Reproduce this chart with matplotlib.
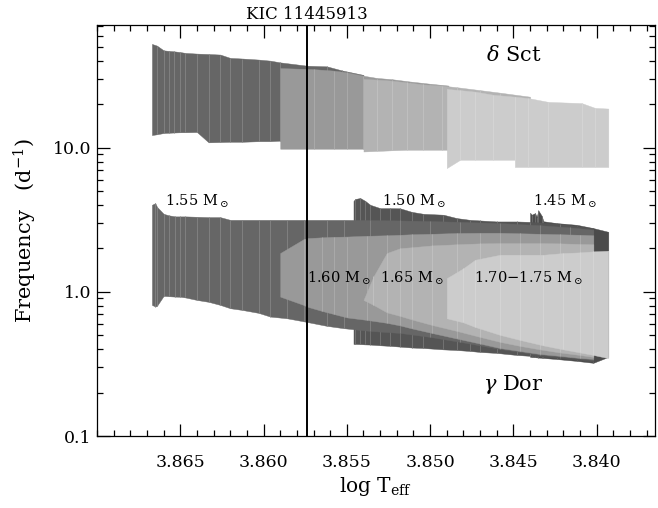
import matplotlib
matplotlib.use('Agg')
import matplotlib.pyplot as plt
from matplotlib.ticker import FixedLocator, FixedFormatter, MultipleLocator, LogLocator, NullFormatter
from matplotlib.colors import to_rgb

plt.rcParams['font.family'] = ['DejaVu Serif']
plt.rcParams['mathtext.fontset'] = 'dejavuserif'

# ---------------- data ----------------
xtick_vals = [3.865, 3.860, 3.855, 3.850, 3.845, 3.840]
xtick_labels = ['3.865', '3.860', '3.855', '3.850', '3.845', '3.840']
ytick_vals = [0.1, 1.0, 10.0]
ytick_labels = ['0.1', '1.0', '10.0']
kic_logteff = 3.8574

# delta Sct regions (log Teff, upper / lower frequency in d^-1)
dsct155_logt = [3.8667, 3.8664, 3.8660, 3.8657, 3.8654, 3.8650, 3.8647, 3.8640, 3.8633, 3.8626, 3.8620,
                3.8613, 3.8603, 3.8596, 3.8590, 3.8574, 3.8562, 3.8553, 3.8540]
dsct155_top = [52.5, 51.1, 47.4, 47.0, 46.7, 46.1, 45.5, 45.0, 44.7, 44.3, 42.0,
               41.6, 40.9, 40.2, 39.1, 37.1, 36.7, 34.4, 32.0]
dsct155_bot = [12.25, 12.4, 12.65, 12.7, 12.75, 12.8, 12.8, 12.85, 10.9, 10.95, 11.0,
               11.0, 11.1, 11.1, 11.2, 11.2, 11.2, 11.2, 11.2]

dsct160_logt = [3.8590, 3.8570, 3.8558, 3.8550, 3.8540, 3.8532, 3.8523, 3.8512, 3.8500, 3.8489]
dsct160_top = [35.7, 35.1, 34.3, 33.4, 31.6, 30.5, 29.9, 28.8, 27.8, 27.0]
dsct160_bot = [9.84, 9.84, 9.84, 9.84, 9.84, 9.84, 9.84, 9.84, 9.84, 9.84]

dsct165_logt = [3.8540, 3.8532, 3.8523, 3.8514, 3.8504, 3.8493, 3.8484, 3.8470, 3.8458, 3.8440]
dsct165_top = [30.0, 29.7, 29.2, 28.4, 27.5, 27.0, 26.3, 25.1, 24.1, 22.6]
dsct165_bot = [9.42, 9.5, 9.6, 9.68, 9.68, 9.68, 9.68, 9.68, 9.68, 9.68]

dsct170_logt = [3.8490, 3.8482, 3.8473, 3.8462, 3.8449, 3.8449, 3.8441, 3.8429, 3.8409, 3.8401, 3.8393]
dsct170_top = [25.6, 25.1, 24.5, 23.3, 22.6, 22.6, 22.1, 20.8, 20.4, 18.9, 18.7]
dsct170_bot = [7.23, 8.25, 8.25, 8.25, 8.25, 7.35, 7.35, 7.35, 7.35, 7.35, 7.35]

# gamma Dor regions
gdor145_logt = [3.8440, 3.8439, 3.8437, 3.8436, 3.8435, 3.8433, 3.8432, 3.8424, 3.8412, 3.8402, 3.8393]
gdor145_top = [3.54, 3.43, 3.52, 3.32, 3.67, 3.37, 3.09, 3.00, 2.92, 2.77, 2.61]
gdor145_bot = [0.354, 0.353, 0.352, 0.351, 0.350, 0.349, 0.348, 0.342, 0.332, 0.322, 0.354]

gdor150_logt = [3.8546, 3.8545, 3.8542, 3.8539, 3.8536, 3.8530, 3.8524, 3.8518, 3.8511, 3.8504,
                3.8492, 3.8484, 3.8476, 3.8470, 3.8460, 3.8448, 3.8440, 3.8422, 3.8402]
gdor150_top = [4.28, 4.41, 4.48, 4.28, 4.02, 3.81, 3.81, 3.80, 3.59, 3.48,
               3.43, 3.25, 3.16, 3.13, 3.08, 3.08, 3.06, 2.97, 2.76]
gdor150_bot = [0.435, 0.435, 0.434, 0.432, 0.431, 0.426, 0.422, 0.417, 0.411, 0.408,
               0.399, 0.395, 0.389, 0.383, 0.377, 0.365, 0.360, 0.348, 0.328]

gdor155_logt = [3.8667, 3.8665, 3.8664, 3.8660, 3.8657, 3.8653, 3.8650, 3.8647, 3.8640, 3.8633,
                3.8626, 3.8620, 3.8613, 3.8603, 3.8596, 3.8586, 3.8576, 3.8562, 3.8552, 3.8536,
                3.8518, 3.8500, 3.8482, 3.8458, 3.8434, 3.8416, 3.8402]
gdor155_top = [4.02, 4.13, 3.89, 3.48, 3.40, 3.34, 3.34, 3.34, 3.32, 3.30,
               3.30, 3.16, 3.16, 3.16, 3.16, 3.16, 3.16, 3.16, 3.16, 3.15,
               3.13, 3.10, 3.06, 3.00, 2.90, 2.80, 2.70]
gdor155_bot = [0.812, 0.791, 0.80, 0.938, 0.933, 0.927, 0.925, 0.915, 0.879, 0.853,
               0.812, 0.770, 0.750, 0.715, 0.674, 0.656, 0.625, 0.581, 0.560, 0.536,
               0.519, 0.487, 0.450, 0.402, 0.366, 0.351, 0.337]

gdor160_logt = [3.8590, 3.8576, 3.8574, 3.8565, 3.8558, 3.8550, 3.8538, 3.8526, 3.8518, 3.8511,
                3.8499, 3.8484, 3.8470, 3.8458, 3.8446, 3.8434, 3.8422, 3.8410, 3.8402]
gdor160_top = [1.86, 2.32, 2.36, 2.39, 2.41, 2.42, 2.45, 2.47, 2.49, 2.51,
               2.53, 2.56, 2.57, 2.57, 2.55, 2.53, 2.51, 2.49, 2.47]
gdor160_bot = [0.927, 0.812, 0.791, 0.738, 0.703, 0.665, 0.639, 0.610, 0.585, 0.558,
               0.519, 0.475, 0.438, 0.408, 0.389, 0.371, 0.360, 0.348, 0.343]

gdor165_logt = [3.8540, 3.8534, 3.8526, 3.8518, 3.8511, 3.8499, 3.8484, 3.8470, 3.8458, 3.8446,
                3.8434, 3.8422, 3.8410, 3.8402]
gdor165_top = [0.879, 1.28, 1.86, 2.01, 2.04, 2.10, 2.14, 2.17, 2.18, 2.18,
               2.18, 2.17, 2.15, 2.14]
gdor165_bot = [0.879, 0.812, 0.721, 0.681, 0.644, 0.590, 0.536, 0.487, 0.450, 0.422,
               0.399, 0.380, 0.365, 0.354]

gdor170_logt = [3.8490, 3.8480, 3.8473, 3.8458, 3.8446, 3.8432, 3.8420, 3.8410, 3.8402, 3.8393]
gdor170_top = [1.245, 1.46, 1.67, 1.81, 1.81, 1.81, 1.86, 1.88, 1.91, 1.93]
gdor170_bot = [0.656, 0.614, 0.571, 0.503, 0.464, 0.425, 0.399, 0.380, 0.365, 0.347]

# mass labels: (text, log Teff, frequency)
mass_labels = [
    (r'1.55 $\mathrm{M}_\odot$', 3.8640, 4.25),
    (r'1.50 $\mathrm{M}_\odot$', 3.8510, 4.25),
    (r'1.45 $\mathrm{M}_\odot$', 3.8419, 4.25),
    (r'1.60 $\mathrm{M}_\odot$', 3.8555, 1.245),
    (r'1.65 $\mathrm{M}_\odot$', 3.8511, 1.245),
    (r'1.70$-$1.75 $\mathrm{M}_\odot$', 3.8441, 1.245),
]
class_labels = [
    (r'$\delta$ Sct', 3.8450, 44.0),
    (r'$\gamma$ Dor', 3.8450, 0.226),
]

# ---------------- figure ----------------
fig = plt.figure(figsize=(6.58, 5.08), dpi=100)
ax = fig.add_axes([0.1474, 0.1417, 0.848, 0.809])
ax.set_yscale('log')


def lighten(c, f):
    r, g, b = to_rgb(c)
    return (r + (1 - r) * f, g + (1 - g) * f, b + (1 - b) * f)


def region(logt, top, bot, color, z):
    ax.fill_between(logt, bot, top, facecolor=color, edgecolor=color, lw=0.3, zorder=z)
    ax.vlines(logt[1:-1], bot[1:-1], top[1:-1], colors=[lighten(color, 0.2)], lw=0.6, zorder=z)


c145, c150, c155, c160, c165, c170 = '#4b4b4b', '#555555', '#666666', '#999999', '#b3b3b3', '#cccccc'

region(gdor145_logt, gdor145_top, gdor145_bot, c145, 1)
region(gdor150_logt, gdor150_top, gdor150_bot, c150, 1.1)
region(gdor155_logt, gdor155_top, gdor155_bot, c155, 1.2)
region(gdor160_logt, gdor160_top, gdor160_bot, c160, 1.3)
region(gdor165_logt, gdor165_top, gdor165_bot, c165, 1.4)
region(gdor170_logt, gdor170_top, gdor170_bot, c170, 1.5)

region(dsct155_logt, dsct155_top, dsct155_bot, c155, 1.2)
region(dsct160_logt, dsct160_top, dsct160_bot, c160, 1.3)
region(dsct165_logt, dsct165_top, dsct165_bot, c165, 1.4)
region(dsct170_logt, dsct170_top, dsct170_bot, c170, 1.5)

ax.axvline(kic_logteff, color='black', lw=1.4, zorder=3)
ax.text(kic_logteff, 1.006, 'KIC 11445913', transform=ax.get_xaxis_transform(),
        ha='center', va='bottom', fontsize=12)

for txt, xv, yv in mass_labels:
    ax.text(xv, yv, txt, ha='center', va='center', fontsize=10.5, zorder=4)
for txt, xv, yv in class_labels:
    ax.text(xv, yv, txt, ha='center', va='center', fontsize=15, zorder=4)

ax.set_xlim(3.870, 3.8365)
ax.set_ylim(0.1, 71)

ax.xaxis.set_major_locator(FixedLocator(xtick_vals))
ax.xaxis.set_major_formatter(FixedFormatter(xtick_labels))
ax.xaxis.set_minor_locator(MultipleLocator(0.001))
ax.yaxis.set_major_locator(FixedLocator(ytick_vals))
ax.yaxis.set_major_formatter(FixedFormatter(ytick_labels))
ax.yaxis.set_minor_locator(LogLocator(base=10, subs=[2, 3, 4, 5, 6, 7, 8, 9]))
ax.yaxis.set_minor_formatter(NullFormatter())

ax.tick_params(which='both', direction='in', top=True, right=True, width=0.9, labelsize=12.5)
ax.tick_params(which='major', length=9)
ax.tick_params(which='minor', length=4.5)
ax.tick_params(axis='x', which='major', pad=13)
ax.tick_params(axis='y', which='major', pad=4)
for s in ax.spines.values():
    s.set_linewidth(0.9)
    s.set_zorder(5)

ax.set_xlabel(r'log T$_{\rm eff}$', fontsize=14.5, labelpad=3)
ax.set_ylabel(r'Frequency   (d$^{-1}$)', fontsize=15, labelpad=10)

fig.savefig('out.png', dpi=100)
